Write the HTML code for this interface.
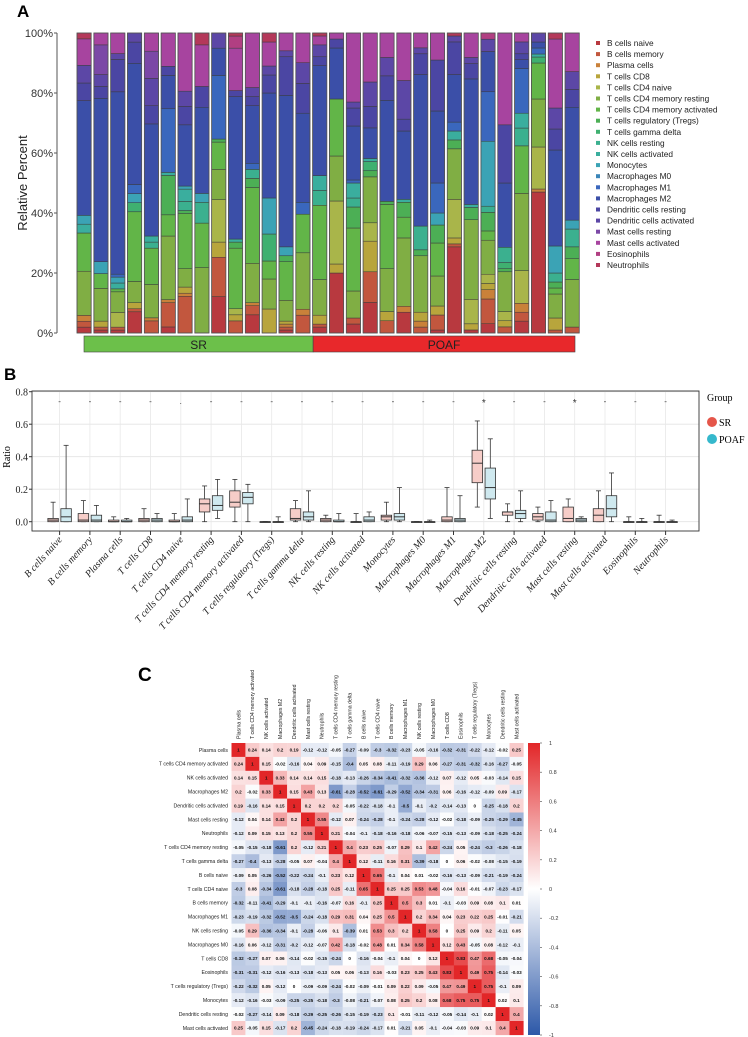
<!DOCTYPE html>
<html><head><meta charset="utf-8">
<style>
html,body{margin:0;padding:0;background:#fff;}
svg{display:block;}
text{font-family:"Liberation Sans",sans-serif;}
.serif{font-family:"Liberation Serif",serif;}
</style></head>
<body>
<svg id="fig" width="748" height="1037" viewBox="0 0 748 1037" xmlns="http://www.w3.org/2000/svg">
<text x="17" y="17" font-size="17" font-weight="bold">A</text>
<text x="4" y="380" font-size="17" font-weight="bold">B</text>
<text x="138" y="681" font-size="19" font-weight="bold">C</text>
<g id="pa"></g>
<g id="pb"></g>
<g id="pc"></g>
</svg>
<script>
const cellTypes=["B cells naive","B cells memory","Plasma cells","T cells CD8","T cells CD4 naive","T cells CD4 memory resting","T cells CD4 memory activated","T cells regulatory (Tregs)","T cells gamma delta","NK cells resting","NK cells activated","Monocytes","Macrophages M0","Macrophages M1","Macrophages M2","Dendritic cells resting","Dendritic cells activated","Mast cells resting","Mast cells activated","Eosinophils","Neutrophils"];
const typeColors=["#b8393f","#c2573e","#c9813a","#b8a53c","#a9b54a","#80ae44","#62b548","#4caf55","#3fb070","#3bb08f","#3aae9e","#3ba3b5","#3a85b8","#3a67bd","#3b4fa8","#4b46a3","#5c47a6","#7b48a6","#a7449f","#b13f82","#b4385a"];
const sampleValues=[
[2,2,2,0,0,15,13,0,0,0,3,3,0,0,39,6,6,0,9,0,2],
[1,1,0,2,0,11,5,0,0,0,0,4,0,0,55,4,4,10,4,0,0],
[1,1,0,0,5,7,1,0,0,0,2,2,0,1,62,11,2,0,7,0,0],
[7,1,0,2,0,7,23,0,3,0,0,3,0,3,40,7,3,0,0,0,0],
[0,4,1,0,0,11,12,0,0,2,2,0,0,0,37,6,9,9,6,0,0],
[2,8,1,0,0,21,7,13,0,0,1,0,0,21,11,3,0,0,11,0,0],
[0,12,1,2,0,6,18,1,0,3,4,1,0,0,20,6,5,0,19,0,0],
[0,0,0,0,0,22,15,0,0,7,0,3,0,0,29,7,0,0,14,0,4],
[12,13,0,5,14,10,9,1,0,0,0,0,0,21,9,0,5,0,0,0,0],
[0,4,0,2,2,0,20,2,0,0,1,0,0,0,47,2,0,0,14,4,1],
[6,3,1,0,0,13,25,3,0,3,0,0,0,2,19,3,3,0,18,0,0],
[0,0,0,8,0,10,6,0,9,0,0,12,0,0,35,6,3,0,8,0,3],
[1,1,1,1,0,7,13,2,0,0,0,3,0,0,51,13,2,0,6,0,0],
[0,6,2,0,0,19,13,0,0,0,0,0,0,4,30,10,7,0,10,0,0],
[2,1,0,3,0,12,25,0,0,5,5,0,0,0,37,3,4,0,3,0,1],
[20,0,0,3,21,15,19,0,0,0,0,0,0,0,17,3,0,0,2,0,0],
[3,2,0,0,0,9,21,7,0,3,5,0,0,1,18,6,2,0,23,0,0],
[10,10,0,10,6,15,0,2,3,0,1,0,0,0,10,7,8,0,16,0,0],
[0,4,0,3,0,14,21,1,0,0,0,0,0,0,33,8,6,0,8,0,0],
[7,0,2,0,0,23,7,5,0,0,1,0,0,0,23,4,13,0,16,0,0],
[0,2,2,3,0,19,0,2,0,8,0,0,0,0,51,7,2,0,5,0,0],
[1,5,0,3,0,10,11,6,0,0,0,4,0,10,24,17,0,0,9,0,0],
[29,1,0,2,13,17,0,3,0,0,3,0,0,3,16,11,2,0,0,0,1],
[1,0,0,2,8,26,0,4,0,0,1,0,0,0,41,5,2,0,8,0,0],
[3,8,3,2,3,11,3,6,0,2,0,21,0,16,13,0,4,0,0,2,0],
[0,2,0,2,3,13,0,1,2,5,0,0,0,0,21,19,0,0,30,0,0],
[4,3,3,0,11,26,16,0,0,6,5,0,0,15,3,2,4,0,3,0,0],
[47,0,1,0,14,16,12,0,2,0,1,0,0,2,2,0,3,0,0,0,0],
[0,1,0,4,0,8,2,2,0,3,0,9,0,0,32,7,7,0,23,0,2],
[0,2,0,0,0,16,7,4,0,6,0,3,0,0,38,6,6,0,13,0,0]];
const groupLabels=["SR","POAF"];
const groupCounts=[14,16];
const pctTicks=["0%","20%","40%","60%","80%","100%"];

const boxCats=cellTypes;
const srStats=[[0,0,0.01,0.02,0.12],[0,0,0.01,0.05,0.13],[0,0,0,0.01,0.03],[0,0,0.01,0.02,0.08],[0,0,0,0.01,0.05],[0,0.06,0.11,0.14,0.22],[0,0.09,0.12,0.19,0.26],[0,0,0,0,0],[0,0.01,0.02,0.08,0.13],[0,0,0.01,0.02,0.04],[0,0,0,0,0.05],[0,0.01,0.03,0.04,0.12],[0,0,0,0,0],[0,0,0.01,0.03,0.21],[0.09,0.24,0.36,0.44,0.62],[0,0.04,0.06,0.06,0.11],[0,0.01,0.03,0.05,0.09],[0,0,0.02,0.09,0.14],[0,0,0.04,0.08,0.19],[0,0,0,0,0.03],[0,0,0,0,0.04]];
const poafStats=[[0,0,0.03,0.08,0.47],[0,0,0.01,0.04,0.1],[0,0,0,0.01,0.02],[0,0,0.01,0.02,0.05],[0,0,0.01,0.03,0.14],[0.02,0.07,0.1,0.16,0.26],[0,0.11,0.15,0.18,0.23],[0,0,0,0,0.03],[0,0.01,0.03,0.06,0.19],[0,0,0,0.01,0.05],[0,0,0.01,0.03,0.06],[0,0.01,0.03,0.05,0.21],[0,0,0,0,0.01],[0,0,0.01,0.02,0.16],[0.02,0.14,0.21,0.33,0.51],[0,0.02,0.05,0.07,0.19],[0,0,0.01,0.06,0.13],[0,0,0.01,0.02,0.03],[0,0.03,0.08,0.16,0.3],[0,0,0,0,0.02],[0,0,0,0,0.01]];
const sigMarks=["-","-","-","-",".","-","-","-","-","-","-","-","-","-","*","-","-","*","-","-","-"];
const ratioTicks=[0,0.2,0.4,0.6,0.8];

const corrLabels=["Plasma cells","T cells CD4 memory activated","NK cells activated","Macrophages M2","Dendritic cells activated","Mast cells resting","Neutrophils","T cells CD4 memory resting","T cells gamma delta","B cells naive","T cells CD4 naive","B cells memory","Macrophages M1","NK cells resting","Macrophages M0","T cells CD8","Eosinophils","T cells regulatory (Tregs)","Monocytes","Dendritic cells resting","Mast cells activated"];
const corrValues=[
[1,0.24,0.14,0.2,0.19,-0.12,-0.12,-0.05,-0.27,-0.09,-0.3,-0.32,-0.23,-0.05,-0.16,-0.32,-0.31,-0.22,-0.12,-0.02,0.25],
[0.24,1,0.15,-0.02,-0.16,0.04,0.09,-0.15,-0.4,0.05,0.08,-0.11,-0.19,0.29,0.06,-0.27,-0.31,-0.32,-0.16,-0.27,-0.05],
[0.14,0.15,1,0.33,0.14,0.14,0.15,-0.18,-0.13,-0.26,-0.34,-0.41,-0.32,-0.36,-0.12,0.07,-0.12,0.05,-0.03,-0.14,0.15],
[0.2,-0.02,0.33,1,0.15,0.43,0.13,-0.61,-0.28,-0.52,-0.61,-0.29,-0.52,-0.34,-0.31,0.06,-0.16,-0.12,-0.09,0.09,-0.17],
[0.19,-0.16,0.14,0.15,1,0.2,0.2,0.2,-0.05,-0.22,-0.18,-0.1,-0.5,-0.1,-0.2,-0.14,-0.13,0,-0.25,-0.18,0.2],
[-0.12,0.04,0.14,0.43,0.2,1,0.55,-0.12,0.07,-0.24,-0.28,-0.1,-0.24,-0.28,-0.12,-0.02,-0.18,-0.09,-0.25,-0.29,-0.45],
[-0.12,0.09,0.15,0.13,0.2,0.55,1,0.21,-0.04,-0.1,-0.18,-0.16,-0.18,-0.06,-0.07,-0.15,-0.13,-0.09,-0.18,-0.25,-0.24],
[-0.05,-0.15,-0.18,-0.61,0.2,-0.12,0.21,1,0.4,0.23,0.25,-0.07,0.29,0.1,0.42,-0.24,0.05,-0.24,-0.3,-0.26,-0.18],
[-0.27,-0.4,-0.13,-0.28,-0.05,0.07,-0.04,0.4,1,0.12,-0.11,0.16,0.31,-0.39,-0.18,0,0.06,-0.02,-0.08,-0.15,-0.19],
[-0.09,0.05,-0.26,-0.52,-0.22,-0.24,-0.1,0.23,0.12,1,0.65,-0.1,0.04,0.01,-0.02,-0.16,-0.13,-0.09,-0.21,-0.19,-0.24],
[-0.3,0.08,-0.34,-0.61,-0.18,-0.28,-0.18,0.25,-0.11,0.65,1,0.25,0.25,0.53,0.48,-0.04,0.16,-0.01,-0.07,-0.23,-0.17],
[-0.32,-0.11,-0.41,-0.29,-0.1,-0.1,-0.16,-0.07,0.16,-0.1,0.25,1,0.5,0.3,0.01,-0.1,-0.03,0.09,0.08,0.1,0.01],
[-0.23,-0.19,-0.32,-0.52,-0.5,-0.24,-0.18,0.29,0.31,0.04,0.25,0.5,1,0.2,0.34,0.04,0.23,0.22,0.25,-0.01,-0.21],
[-0.05,0.29,-0.36,-0.34,-0.1,-0.28,-0.06,0.1,-0.39,0.01,0.53,0.3,0.2,1,0.58,0,0.25,0.09,0.2,-0.11,0.05],
[-0.16,0.06,-0.12,-0.31,-0.2,-0.12,-0.07,0.42,-0.18,-0.02,0.48,0.01,0.34,0.58,1,0.12,0.43,-0.05,0.08,-0.12,-0.1],
[-0.32,-0.27,0.07,0.06,-0.14,-0.02,-0.15,-0.24,0,-0.16,-0.04,-0.1,0.04,0,0.12,1,0.83,0.47,0.68,-0.05,-0.04],
[-0.31,-0.31,-0.12,-0.16,-0.13,-0.18,-0.13,0.05,0.06,-0.13,0.16,-0.03,0.23,0.25,0.43,0.83,1,0.49,0.75,-0.14,-0.03],
[-0.22,-0.32,0.05,-0.12,0,-0.09,-0.09,-0.24,-0.02,-0.09,-0.01,0.09,0.22,0.09,-0.05,0.47,0.49,1,0.75,-0.1,0.09],
[-0.12,-0.16,-0.03,-0.09,-0.25,-0.25,-0.18,-0.3,-0.08,-0.21,-0.07,0.08,0.25,0.2,0.08,0.68,0.75,0.75,1,0.02,0.1],
[-0.02,-0.27,-0.14,0.09,-0.18,-0.29,-0.25,-0.26,-0.15,-0.19,-0.23,0.1,-0.01,-0.11,-0.12,-0.05,-0.14,-0.1,0.02,1,0.4],
[0.25,-0.05,0.15,-0.17,0.2,-0.45,-0.24,-0.18,-0.19,-0.24,-0.17,0.01,-0.21,0.05,-0.1,-0.04,-0.03,0.09,0.1,0.4,1]];
const colorbarTicks=[1,0.8,0.6,0.4,0.2,0,-0.2,-0.4,-0.6,-0.8,-1];

const NS="http://www.w3.org/2000/svg";
function mk(parent,tag,attrs,txt){const e=document.createElementNS(NS,tag);for(const k in attrs)e.setAttribute(k,attrs[k]);if(txt!==undefined)e.textContent=txt;parent.appendChild(e);return e;}

/* ---------- Panel A ---------- */
(function(){
const g=document.getElementById('pa');
const y0=333,y1=33,x0=77,step=16.83,bw=14.2;
const yA=p=>y0-(p/100)*(y0-y1);
const ax=mk(g,'line',{x1:57,y1:y1,x2:57,y2:y0,stroke:'#555','stroke-width':1});

pctTicks.forEach((t,i)=>{const y=yA(i*20);
 const tk=mk(g,'line',{x1:54,y1:y,x2:57,y2:y,stroke:'#555'});
 const tl=mk(g,'text',{x:53,y:y+4,'font-size':11,'text-anchor':'end',fill:'#333'},t);});
const yl=mk(g,'text',{x:0,y:0,'font-size':13,'text-anchor':'middle',fill:'#222',transform:'translate(27,183) rotate(-90)'},'Relative Percent');

sampleValues.forEach((vals,i)=>{
 const tot=vals.reduce((a,b)=>a+b,0);let acc=0;const x=x0+i*step;
 const bg=mk(g,'g',{});
 vals.forEach((v,k)=>{if(v<=0)return;const p0=acc/tot*100;acc+=v;const p1=acc/tot*100;
  const r=mk(bg,'rect',{x:x,y:yA(p1),width:bw,height:yA(p0)-yA(p1),fill:typeColors[k],stroke:'#3a3a3a','stroke-width':0.5});
  });
 const o=mk(bg,'rect',{x:x,y:y1,width:bw,height:y0-y1,fill:'none',stroke:'#555','stroke-width':0.8});
 
});
let gx=84;const gEnd=575;const total=groupCounts[0]+groupCounts[1];const gcol=["#6cc04a","#e8282b"];
groupCounts.forEach((c,i)=>{const w=(gEnd-84)*c/total;
 const r=mk(g,'rect',{x:gx,y:336,width:w,height:16,fill:gcol[i],stroke:'#444','stroke-width':0.6});
 
 const t=mk(g,'text',{x:gx+w/2,y:349,'font-size':12,'text-anchor':'middle',fill:'#222'},groupLabels[i]);
 gx+=w;});
cellTypes.forEach((n,i)=>{const y=43+i*11.1;
 const s=mk(g,'rect',{x:596,y:y-2,width:4,height:4,fill:typeColors[i]});
 const t=mk(g,'text',{x:607,y:y+3,'font-size':8.3,fill:'#222'},n);});
})();

/* ---------- Panel B ---------- */
(function(){
const g=document.getElementById('pb');
const L=32,R=699,T=391,B=531;const v0=521.7,per=162.5;
const yB=v=>v0-v*per;const xC=i=>59.6+i*30.3;
ratioTicks.forEach(t=>{const y=yB(t);
 const gl=mk(g,'line',{x1:L,y1:y,x2:R,y2:y,stroke:'#e4e4e4','stroke-width':0.8});
 const tk=mk(g,'line',{x1:L-3,y1:y,x2:L,y2:y,stroke:'#333'});
 const tl=mk(g,'text',{x:L-4,y:y+4,'font-size':10,'text-anchor':'end',class:'serif',fill:'#222'},t.toFixed(1));});
boxCats.forEach((c,i)=>{const gl=mk(g,'line',{x1:xC(i),y1:T,x2:xC(i),y2:B,stroke:'#e8e8e8','stroke-width':0.8});});
const fr=mk(g,'rect',{x:L,y:T,width:R-L,height:B-T,fill:'none',stroke:'#333','stroke-width':0.9});
const yt=mk(g,'text',{x:0,y:0,'font-size':10,'text-anchor':'middle',class:'serif',transform:'translate(10,457) rotate(-90)'},'Ratio');

function box(st,cx,fill,name){const w=10.5;const bg=mk(g,'g',{});
 mk(bg,'line',{x1:cx,y1:yB(st[4]),x2:cx,y2:yB(st[3]),stroke:'#333','stroke-width':0.8});
 mk(bg,'line',{x1:cx,y1:yB(st[1]),x2:cx,y2:yB(st[0]),stroke:'#333','stroke-width':0.8});
 mk(bg,'line',{x1:cx-2.5,y1:yB(st[4]),x2:cx+2.5,y2:yB(st[4]),stroke:'#333','stroke-width':0.8});
 mk(bg,'line',{x1:cx-2.5,y1:yB(st[0]),x2:cx+2.5,y2:yB(st[0]),stroke:'#333','stroke-width':0.8});
 mk(bg,'rect',{x:cx-w/2,y:yB(st[3]),width:w,height:Math.max(yB(st[1])-yB(st[3]),0.8),fill:fill,stroke:'#333','stroke-width':0.8});
 mk(bg,'line',{x1:cx-w/2,y1:yB(st[2]),x2:cx+w/2,y2:yB(st[2]),stroke:'#333','stroke-width':1});}
boxCats.forEach((c,i)=>{
 box(srStats[i],xC(i)-6.5,'#f6cdc8','box-sr');box(poafStats[i],xC(i)+6.5,'#cfe9ef','box-poaf');
 const tk=mk(g,'line',{x1:xC(i),y1:B,x2:xC(i),y2:B+4,stroke:'#333'});
 const lb=mk(g,'text',{x:0,y:0,'font-size':10,'font-style':'italic','text-anchor':'end',class:'serif',fill:'#222',transform:`translate(${xC(i)+3},${B+9}) rotate(-48)`},c);
 
 const sm=mk(g,'text',{x:xC(i),y:sigMarks[i]==='*'?406:404,'font-size':sigMarks[i]==='*'?10:8,'text-anchor':'middle',fill:'#333'},sigMarks[i]);
 });
const lt=mk(g,'text',{x:707,y:401,'font-size':10,class:'serif'},'Group');
[['SR','#e5564a',422],['POAF','#35b8cc',439]].forEach(a=>{
 const c=mk(g,'circle',{cx:712,cy:a[2],r:5,fill:a[1]});
 const t=mk(g,'text',{x:719,y:a[2]+4,'font-size':10,class:'serif'},a[0]);});
})();

/* ---------- Panel C ---------- */
(function(){
const g=document.getElementById('pc');
const X0=231.5,Y0=743,cs=13.9;
function col(v){const a=Math.min(Math.abs(v),1);let c=v>=0?[226,38,40]:[44,88,168];
 const r=Math.round(255+(c[0]-255)*a),gg=Math.round(255+(c[1]-255)*a),b=Math.round(255+(c[2]-255)*a);return `rgb(${r},${gg},${b})`;}
corrValues.forEach((row,i)=>row.forEach((v,j)=>{
 const r=mk(g,'rect',{x:X0+j*cs,y:Y0+i*cs,width:cs+0.2,height:cs+0.2,fill:col(v)});
 const t=mk(g,'text',{x:X0+j*cs+cs/2,y:Y0+i*cs+cs/2+1.7,'font-size':4.6,'font-weight':'bold','text-anchor':'middle',fill:'#111'},String(v));
 }));
corrLabels.forEach((n,i)=>{
 const t=mk(g,'text',{x:228,y:Y0+i*cs+cs/2+1.8,'font-size':5.2,'text-anchor':'end',fill:'#222'},n);
 const c=mk(g,'text',{x:0,y:0,'font-size':5.2,fill:'#222',transform:`translate(${X0+i*cs+cs/2+1.8},739) rotate(-90)`},n);});
const defs=mk(g,'defs',{});const lg=mk(defs,'linearGradient',{id:'cb',x1:0,y1:0,x2:0,y2:1});
mk(lg,'stop',{offset:'0',  'stop-color':col(1)});mk(lg,'stop',{offset:'0.5','stop-color':'#fff'});mk(lg,'stop',{offset:'1','stop-color':col(-1)});
const cbTop=743,cbBot=1035,yc=v=>cbTop+(1-v)/2*(cbBot-cbTop);
const cb=mk(g,'rect',{x:528,y:cbTop,width:12,height:cbBot-cbTop,fill:'url(#cb)'});
colorbarTicks.forEach(t=>{const y=yc(t);
 const tk=mk(g,'line',{x1:540,y1:y,x2:542,y2:y,stroke:'#444','stroke-width':0.6});
 const tl=mk(g,'text',{x:549,y:y+2,'font-size':5.5,fill:'#333'},String(t));});
})();
</script>
</body></html>
